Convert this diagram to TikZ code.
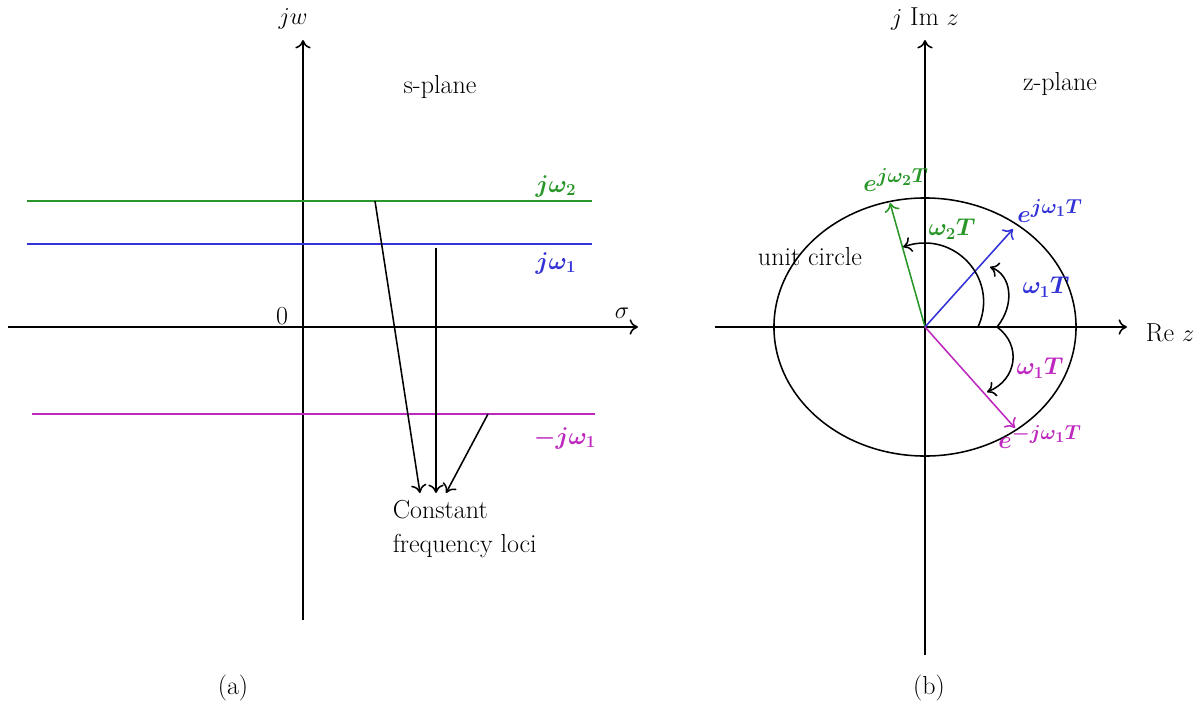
\documentclass[tikz,border=0pt]{standalone}
\usetikzlibrary{arrows.meta}
\definecolor{cgreen}{RGB}{40,150,40}
\definecolor{cblue}{RGB}{50,50,215}
\definecolor{cmag}{RGB}{190,40,190}
\newcommand{\supx}[1]{\mbox{\fontsize{15}{18}\selectfont\boldmath$#1$}}
\begin{document}
\begin{tikzpicture}[x=0.025cm,y=-0.025cm,line width=1.1pt,
  font=\fontsize{18.5}{24}\selectfont,
  arr/.style={-{To[length=6pt,width=11pt]}},
  lbl/.style={inner sep=0pt},
  mlbl/.style={inner sep=0pt,font=\fontsize{18.5}{24}\selectfont\boldmath}]
\path[use as bounding box] (0,0) rectangle (1203,704);
% ---------- (a) s-plane ----------
\coordinate (sB) at (303,620); \coordinate (sT) at (303,40);
\coordinate (sL) at (8,327);   \coordinate (sR) at (638,327);
\draw[arr] (sB) -- (sT);
\draw[arr] (sL) -- (sR);
\coordinate (g1) at (27,201);  \coordinate (g2) at (592,201);
\coordinate (b1) at (27,244);  \coordinate (b2) at (592,244);
\coordinate (m1) at (32,414);  \coordinate (m2) at (595,414);
\draw[cgreen] (g1) -- (g2);
\draw[cblue] (b1) -- (b2);
\draw[cmag] (m1) -- (m2);
\coordinate (a1s) at (375,201); \coordinate (a1e) at (420,493);
\coordinate (a2s) at (436,248); \coordinate (a2e) at (436,493);
\coordinate (a3s) at (488,414); \coordinate (a3e) at (446,493);
\draw[arr] (a1s) -- (a1e);
\draw[arr] (a2s) -- (a2e);
\draw[arr] (a3s) -- (a3e);
\node[lbl] (jw) at (293,19) {$jw$};
\node[lbl] (splane) at (440,87) {s-plane};
\node[lbl] (zero) at (282,316) {0};
\node[lbl] (sigma) at (622,313) {$\sigma$};
\node[mlbl,text=cgreen] (lw2) at (556,186) {$j\omega_2$};
\node[mlbl,text=cblue] (lw1) at (556,263) {$j\omega_1$};
\node[mlbl,text=cmag] (lmw1) at (565,438) {$-j\omega_1$};
\node[lbl,anchor=west,align=left] (cfl) at (392,529) {Constant\\frequency loci};
\node[lbl] (capa) at (233,688) {(a)};
% ---------- (b) z-plane ----------
\coordinate (O) at (925,327);
\coordinate (zB) at (925,655); \coordinate (zT) at (925,40);
\coordinate (zL) at (715,327); \coordinate (zR) at (1127,327);
\draw[arr] (zB) -- (zT);
\draw[arr] (zL) -- (zR);
\draw (O) ellipse [x radius=3.775cm, y radius=3.225cm];
\coordinate (pg) at (890,203);
\coordinate (pb) at (1013,229);
\coordinate (pm) at (1015,428);
\draw[arr,cgreen] (O) -- (pg);
\draw[arr,cblue] (O) -- (pb);
\draw[arr,cmag] (O) -- (pm);
\coordinate (w2s) at (978,327);
\draw[arr] (w2s) .. controls (997,285) and (965,243) .. (925,243)
  .. controls (915,243) and (909,245) .. (903,247);
\coordinate (w1s) at (997,327);
\draw[arr] (w1s) .. controls (1015,305) and (1012,275) .. (990,267);
\draw[arr] (w1s) .. controls (1022,345) and (1017,380) .. (987,392);
\node[lbl] (imz) at (925,19) {$j$ Im $z$};
\node[lbl] (zplane) at (1060,84) {z-plane};
\node[lbl] (rez) at (1170,333) {Re $z$};
\node[lbl] (uc) at (810,257) {unit circle};
\node[mlbl,text=cgreen] (ew2) at (896,180) {$e^{\supx{j\omega_2T}}$};
\node[mlbl,text=cgreen] (w2T) at (952,229) {$\omega_2T$};
\node[mlbl,text=cblue] (ew1) at (1050,211) {$e^{\supx{j\omega_1T}}$};
\node[mlbl,text=cblue] (w1T) at (1046,287) {$\omega_1T$};
\node[mlbl,text=cmag] (mw1T) at (1040,368) {$\omega_1T$};
\node[mlbl,text=cmag] (emw1) at (1040,437) {$e^{\supx{-j\omega_1T}}$};
\node[lbl] (capb) at (929,688) {(b)};
\end{tikzpicture}
\end{document}
